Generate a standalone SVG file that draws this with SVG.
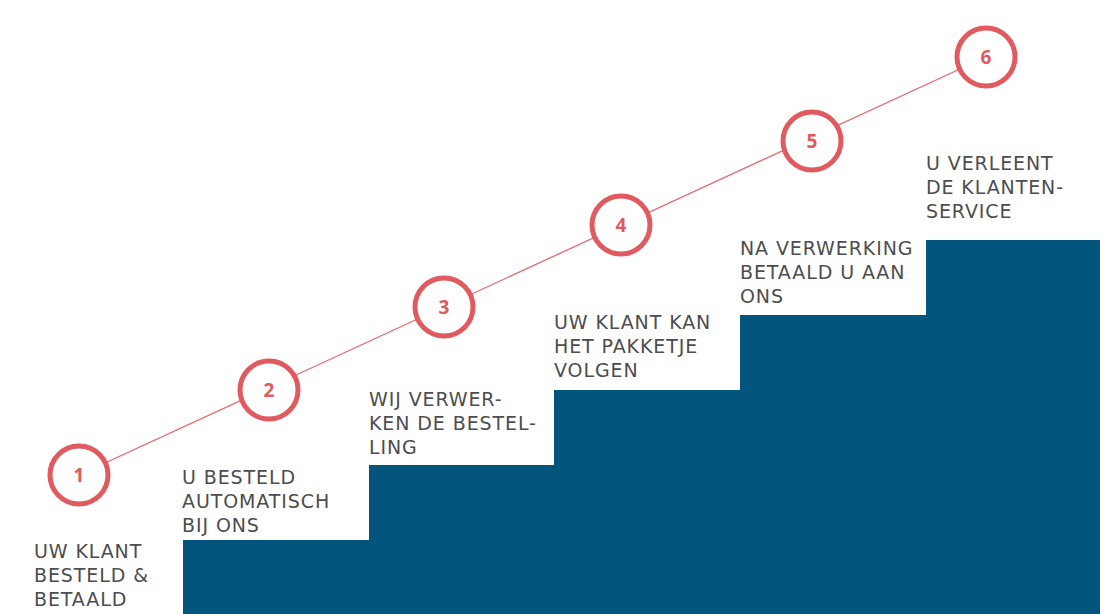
<svg xmlns="http://www.w3.org/2000/svg" width="1100" height="614" viewBox="0 0 1100 614">
<style>
.step{fill:#04557e;}
.c{fill:#ffffff;stroke:#e05a60;stroke-width:5;}
.n{font-family:"Open Sans","DejaVu Sans",sans-serif;font-weight:bold;font-size:19px;fill:#e05a60;text-anchor:middle;}
.t{font-family:"DejaVu Sans","Liberation Sans",sans-serif;font-size:19px;fill:#4d4d4f;letter-spacing:0.9px;}
.link{stroke:#e8686e;stroke-width:1.3;fill:none;}
</style>
<rect width="1100" height="614" fill="#ffffff"/>
<g id="stairs">
<path class="step" d="M183 614 V540 H369 V465 H554 V390 H740 V315 H926 V240 H1100 V614 Z"/>
</g>
<g id="connectors">
<line class="link" x1="79" y1="475" x2="986" y2="57"/>
</g>
<g id="node1"><circle class="c" cx="79" cy="475" r="29"/><text class="n" x="79" y="482">1</text>
<text class="t" x="34" y="558">UW KLANT</text><text class="t" x="34" y="582">BESTELD &amp;</text><text class="t" x="34" y="606">BETAALD</text></g>
<g id="node2"><circle class="c" cx="269" cy="390" r="29"/><text class="n" x="269" y="397">2</text>
<text class="t" x="182" y="484">U BESTELD</text><text class="t" x="182" y="508">AUTOMATISCH</text><text class="t" x="182" y="532">BIJ ONS</text></g>
<g id="node3"><circle class="c" cx="444" cy="307" r="29"/><text class="n" x="444" y="314">3</text>
<text class="t" x="369" y="406">WIJ VERWER-</text><text class="t" x="369" y="430">KEN DE BESTEL-</text><text class="t" x="369" y="454">LING</text></g>
<g id="node4"><circle class="c" cx="621" cy="225" r="29"/><text class="n" x="621" y="232">4</text>
<text class="t" x="554" y="329">UW KLANT KAN</text><text class="t" x="554" y="353">HET PAKKETJE</text><text class="t" x="554" y="377">VOLGEN</text></g>
<g id="node5"><circle class="c" cx="812" cy="141" r="29"/><text class="n" x="812" y="148">5</text>
<text class="t" x="740" y="255">NA VERWERKING</text><text class="t" x="740" y="279">BETAALD U AAN</text><text class="t" x="740" y="303">ONS</text></g>
<g id="node6"><circle class="c" cx="986" cy="57" r="29"/><text class="n" x="986" y="64">6</text>
<text class="t" x="926" y="170">U VERLEENT</text><text class="t" x="926" y="194">DE KLANTEN-</text><text class="t" x="926" y="218">SERVICE</text></g>
</svg>
